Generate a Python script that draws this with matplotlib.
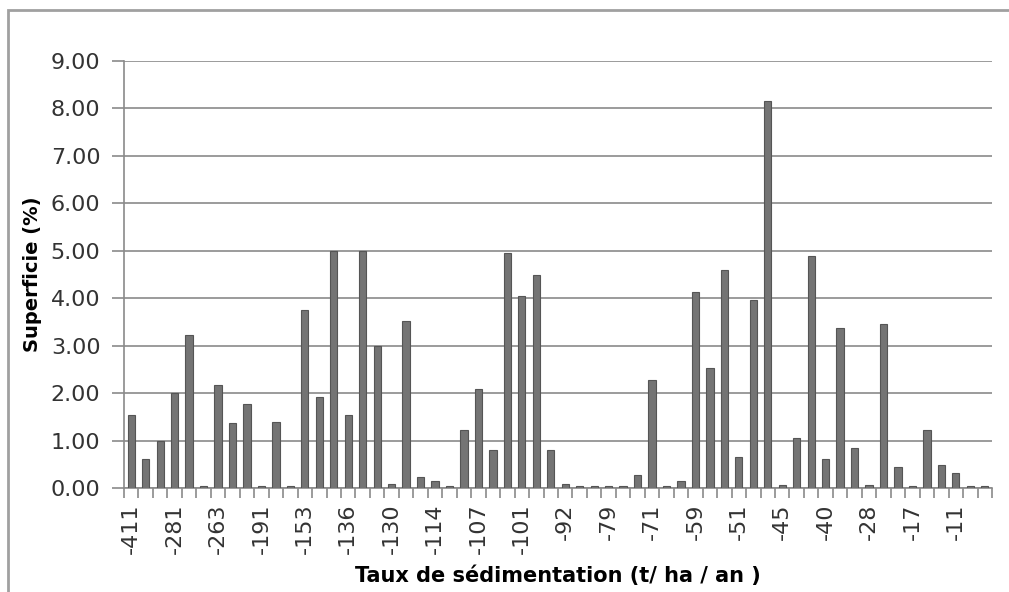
import numpy as np
import matplotlib.pyplot as plt
from matplotlib.patches import Rectangle

# bar heights (% of area), one per sedimentation class, left to right
superficie = [
    1.53, 0.62, 1.00, 2.00, 3.22, 0.04, 2.17, 1.36, 1.78, 0.04,
    1.40, 0.04, 3.75, 1.92, 5.00, 1.53, 5.00, 3.00, 0.08, 3.53,
    0.23, 0.14, 0.04, 1.23, 2.09, 0.80, 4.95, 4.05, 4.48, 0.80,
    0.08, 0.04, 0.04, 0.04, 0.04, 0.27, 2.27, 0.04, 0.14, 4.13,
    2.52, 4.60, 0.66, 3.97, 8.15, 0.06, 1.06, 4.90, 0.62, 3.37,
    0.84, 0.06, 3.45, 0.44, 0.04, 1.23, 0.49, 0.31, 0.04, 0.04,
]
# visible tick labels (Excel shows every third category)
tick_labels = ["-411", "-281", "-263", "-191", "-153", "-136", "-130", "-114",
               "-107", "-101", "-92", "-79", "-71", "-59", "-51", "-45",
               "-40", "-28", "-17", "-11"]
LABEL_STEP = 3
y_ticks = np.arange(0, 10, 1)

W, H = 1009, 592
fig = plt.figure(figsize=(W / 100, H / 100), dpi=100)
ax = fig.add_axes([124 / W, 1 - 488 / H, (992 - 124) / W, (488 - 61) / H])

# chart border
fig.patches.append(Rectangle((8 / W, -0.1), 1.2, 1 - 10 / H + 0.1,
                             transform=fig.transFigure, fill=False,
                             edgecolor="#a0a0a0", linewidth=2))

n = len(superficie)
x = np.arange(n)
ax.bar(x, superficie, width=0.5, color="#747474", edgecolor="#555555",
       linewidth=0.8, zorder=4)

ax.set_xlim(-0.5, n - 0.5)
ax.set_ylim(0, 9)
ax.set_yticks(y_ticks)
ax.set_yticklabels([f"{v:.2f}" for v in y_ticks], fontsize=16, color="#333333")
ax.yaxis.grid(True, color="#8a8a8a", linewidth=1.2, zorder=1)
ax.set_axisbelow(True)

ax.set_xticks(np.arange(-0.5, n, 1), minor=True)
ax.set_xticks(np.arange(0, n, LABEL_STEP))
ax.set_xticklabels(tick_labels, rotation=90, fontsize=16, color="#333333")
ax.tick_params(axis="x", which="major", length=0, pad=11)
ax.tick_params(axis="x", which="minor", length=7, color="#8a8a8a", width=1.2)
ax.tick_params(axis="y", length=9, color="#8a8a8a", width=1.2, pad=8)

for side in ["top", "right"]:
    ax.spines[side].set_visible(False)
ax.spines["left"].set_color("#8a8a8a")
ax.spines["bottom"].set_color("#8a8a8a")
ax.spines["left"].set_linewidth(1.2)
ax.spines["bottom"].set_linewidth(1.2)
ax.spines["bottom"].set_zorder(3)

ax.set_ylabel("Superficie (%)", fontsize=14, fontweight="bold", labelpad=6)
ax.set_xlabel("Taux de sédimentation (t/ ha / an )", fontsize=15,
              fontweight="bold", labelpad=8)

fig.savefig("out.png", dpi=100)
